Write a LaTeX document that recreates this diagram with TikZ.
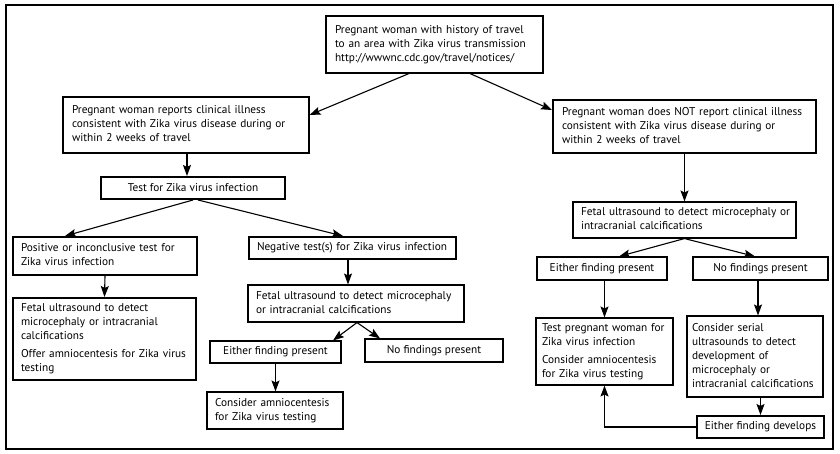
\documentclass[tikz,border=0pt]{standalone}
\usepackage{fontspec}
\setmainfont{PT Sans}
\usetikzlibrary{arrows.meta,calc}
\newcommand{\tl}[1]{\begin{tabular}{@{}l@{}}#1\end{tabular}}
\tikzset{
  box/.style={draw, line width=1.1pt, inner xsep=8pt, inner ysep=0pt, align=left, font=\fontsize{11.3}{14}\selectfont, anchor=center},
  tbox/.style={box, line width=2pt},
  arr/.style={line width=1.1pt, -{Stealth[length=11pt,width=8pt,inset=2pt]}}
}
\begin{document}
\begin{tikzpicture}[x=1pt,y=-1pt]
\useasboundingbox (0,0) rectangle (840,454);
\draw[line width=2pt] (5.5,5.5) rectangle (832.5,448.5);

\node[box, minimum width=217pt, minimum height=57pt, text width=199pt] (top) at (434.5,44.5)
  {\tl{Pregnant woman with history of travel\\to an area with Zika virus transmission\\http://wwwnc.cdc.gov/travel/notices/}};
\node[box, minimum width=246pt, minimum height=56pt, text width=228pt] (rep) at (186,125)
  {\tl{Pregnant woman reports clinical illness\\consistent with Zika virus disease during or\\within 2 weeks of travel}};
\node[tbox, minimum width=184pt, minimum height=22pt, align=center] (test) at (193,188)
  {Test for Zika virus infection};
\node[tbox, minimum width=263pt, minimum height=53pt, text width=245pt] (not) at (684.5,126.5)
  {\tl{Pregnant woman does NOT report clinical illness\\consistent with Zika virus disease during or\\within 2 weeks of travel}};
\node[box, minimum width=223pt, minimum height=36pt, text width=207pt] (fetR) at (684.5,220)
  {\tl{Fetal ultrasound to detect microcephaly or\\intracranial calcifications}};
\node[tbox, minimum width=184pt, minimum height=38pt, text width=168pt] (pos) at (105,256)
  {\tl{Positive or inconclusive test for\\Zika virus infection}};
\node[tbox, minimum width=207pt, minimum height=22pt, text width=191pt] (neg) at (352.5,248)
  {\tl{Negative test(s) for Zika virus infection}};
\node[tbox, minimum width=183pt, minimum height=82pt, text width=167pt] (fetL) at (104.5,339)
  {\tl{Fetal ultrasound to detect\\microcephaly or intracranial\\calcifications\\[4pt]Offer amniocentesis for Zika virus\\testing}};
\node[box, minimum width=216pt, minimum height=37pt, text width=200pt] (fetM) at (356,303.5)
  {\tl{Fetal ultrasound to detect microcephaly\\or intracranial calcifications}};
\node[box, minimum width=131pt, minimum height=22pt, align=center] (eitM) at (275.5,352)
  {Either finding present};
\node[box, minimum width=138pt, minimum height=23pt, align=center] (noM) at (434,350.5)
  {No findings present};
\node[box, minimum width=136pt, minimum height=37pt, text width=120pt] (conM) at (275,410.5)
  {\tl{Consider amniocentesis\\for Zika virus testing}};
\node[box, minimum width=130pt, minimum height=23pt, align=center] (eitR) at (602,268.5)
  {Either finding present};
\node[box, minimum width=135pt, minimum height=23pt, align=center] (noR) at (760.5,268.5)
  {No findings present};
\node[box, minimum width=137pt, minimum height=67pt, text width=125pt, inner xsep=6pt] (testP) at (604.5,351.5)
  {\tl{Test pregnant woman for\\Zika virus infection\\[4pt]Consider amniocentesis\\for Zika virus testing}};
\node[box, minimum width=136pt, minimum height=81pt, text width=126pt, inner xsep=5pt] (ser) at (755,356.5)
  {\tl{Consider serial\\ultrasounds to detect\\development of\\microcephaly or\\intracranial calcifications}};
\node[tbox, minimum width=125pt, minimum height=22pt, align=center] (dev) at (760.5,427)
  {Either finding develops};

\draw[arr] ([xshift=-25.5pt]top.south) -- ([yshift=10pt]rep.east);
\draw[arr] ([xshift=35.5pt]top.south) -- ([yshift=16.5pt]not.west);
\draw[arr] ([xshift=1pt]rep.south) -- ([xshift=1pt]rep.south |- test.north);
\draw[arr] (not.south) -- (fetR.north);
\draw[arr] (test.south) -- ([xshift=-40pt]pos.north);
\draw[arr] ([xshift=5pt]test.south) -- ([xshift=-9.5pt]neg.north);
\draw[arr] (pos.south) -- (fetL.north);
\draw[arr] ([xshift=-4.5pt]neg.south) -- ([xshift=-4.5pt]neg.south |- fetM.north);
\draw[arr] ([xshift=1pt]fetM.south) -- ([xshift=57.5pt]eitM.north);
\draw[arr] ([xshift=1pt]fetM.south) -- ([xshift=-54pt]noM.north);
\draw[arr] (eitM.south) -- (eitM.south |- conM.north);
\draw[arr] (fetR.south) -- ([xshift=17pt]eitR.north);
\draw[arr] (fetR.south) -- ([xshift=-5.5pt]noR.north);
\draw[arr] (testP.north |- eitR.south) -- (testP.north);
\draw[arr] ([xshift=-2.5pt]noR.south) -- ([xshift=-2.5pt]noR.south |- ser.north);
\draw[arr] (dev.north |- ser.south) -- (dev.north);
\draw[arr] (dev.west) -| (testP.south);
\end{tikzpicture}
\end{document}
